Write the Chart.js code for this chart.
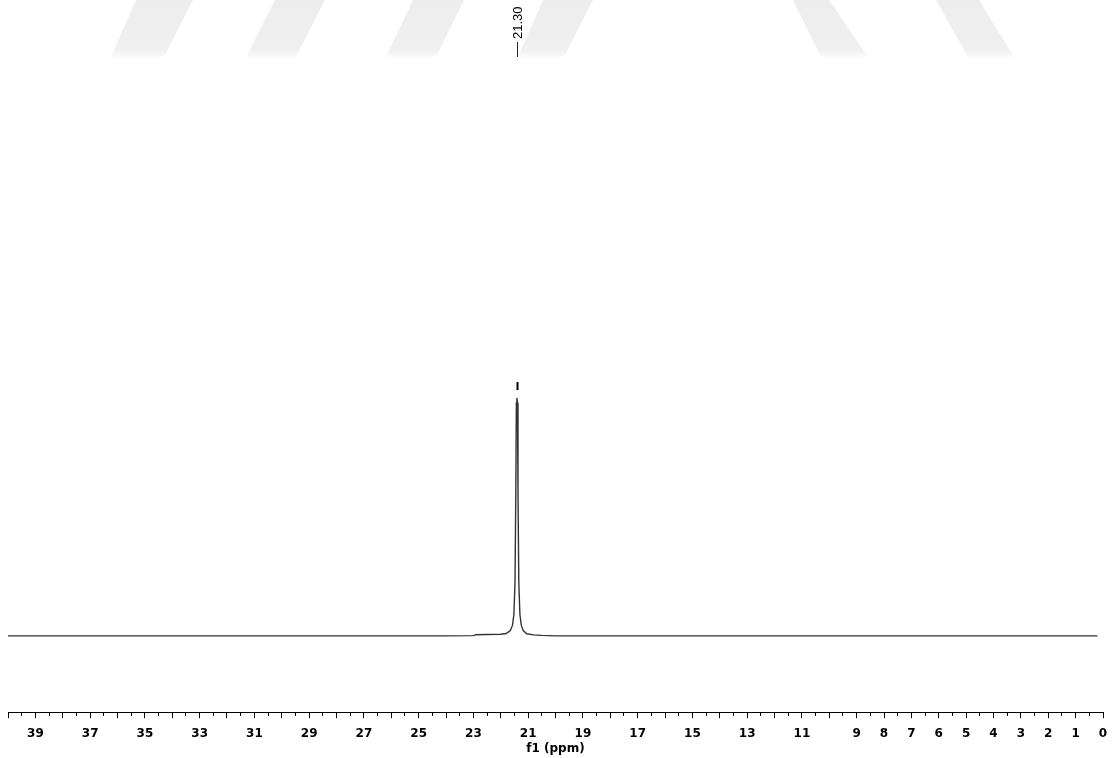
<!DOCTYPE html>
<html><head><meta charset="utf-8">
<script src="https://cdn.jsdelivr.net/npm/chart.js@4.4.1/dist/chart.umd.min.js"></script>
<style>html,body{margin:0;padding:0;background:#fff}#wrap{width:1114px;height:758px}</style>
</head><body><div id="wrap"><canvas id="c" width="1114" height="758"></canvas></div>
<script>
// Spectrum (13C NMR), chemical shift in ppm and relative intensity
const shiftPpm = [40, 30, 24, 23.0, 22.9, 22.5, 22.0, 21.8, 21.65, 21.57, 21.52, 21.48, 21.45, 21.43, 21.41, 21.39, 21.37, 21.34, 21.30, 21.25, 21.18, 21.05, 20.8, 20.5, 20.0, 10, 0.2];
const intensity = [0, 0, 0, 0.001, 0.005, 0.006, 0.007, 0.010, 0.022, 0.045, 0.09, 0.22, 0.6, 0.98, 1.0, 0.98, 0.6, 0.22, 0.09, 0.045, 0.022, 0.009, 0.004, 0.002, 0, 0, 0];
const peakLabels = ["21.30"];
const peakPositions = [21.41];
const peakHeights = [1.0];
const labelledTicks = [39, 37, 35, 33, 31, 29, 27, 25, 23, 21, 19, 17, 15, 13, 11, 9, 8, 7, 6, 5, 4, 3, 2, 1, 0];
const axisMin = 0, axisMax = 40, minorStep = 0.5;

const points = shiftPpm.map((x, i) => ({x, y: intensity[i]}));

const watermark = {
  id: 'watermark',
  beforeDraw(chart) {
    const ctx = chart.ctx;
    const shapes = [
      [[136,0],[193,0],[164,57],[111,57]],
      [[275,0],[325,0],[296,57],[246,57]],
      [[413,0],[464,0],[436,57],[386,57]],
      [[543,0],[593,0],[564,57],[518,57]],
      [[793,0],[829,0],[868,57],[821,57]],
      [[936,0],[979,0],[1014,57],[968,57]]
    ];
    ctx.save();
    const g = ctx.createLinearGradient(0, 0, 0, 58);
    g.addColorStop(0, 'rgba(0,0,0,0.07)');
    g.addColorStop(0.85, 'rgba(0,0,0,0.06)');
    g.addColorStop(1, 'rgba(0,0,0,0.01)');
    ctx.fillStyle = g;
    shapes.forEach(s => {
      ctx.beginPath();
      s.forEach((p, i) => i ? ctx.lineTo(p[0], p[1]) : ctx.moveTo(p[0], p[1]));
      ctx.closePath(); ctx.fill();
    });
    ctx.restore();
  }
};

const peakPick = {
  id: 'peakPick',
  afterDatasetsDraw(chart) {
    const ctx = chart.ctx, xs = chart.scales.x, ys = chart.scales.y;
    ctx.save();
    peakPositions.forEach((p, i) => {
      const px = Math.round(xs.getPixelForValue(p)) + 0.5;
      const top = ys.getPixelForValue(peakHeights[i]);
      ctx.strokeStyle = '#000';
      ctx.lineWidth = 2;
      ctx.beginPath(); ctx.moveTo(px, top - 16); ctx.lineTo(px, top - 8); ctx.stroke();
      ctx.lineWidth = 1;
      ctx.strokeStyle = '#222';
      ctx.beginPath(); ctx.moveTo(px, 42); ctx.lineTo(px, 57); ctx.stroke();
      ctx.translate(px + 1, 39);
      ctx.rotate(-Math.PI / 2);
      ctx.fillStyle = '#000';
      ctx.font = '13px "Liberation Sans", Arial, sans-serif';
      ctx.textAlign = 'left';
      ctx.textBaseline = 'middle';
      ctx.fillText(peakLabels[i], 0, 0);
      ctx.setTransform(1, 0, 0, 1, 0, 0);
    });
    ctx.restore();
  }
};

new Chart(document.getElementById('c'), {
  type: 'line',
  data: { datasets: [{ data: points, borderColor: '#333', borderWidth: 1.4, pointRadius: 0, tension: 0, fill: false }] },
  options: {
    responsive: false, animation: false, parsing: true,
    layout: { padding: { left: 8, right: 11, top: 0, bottom: 2 } },
    plugins: { legend: { display: false }, tooltip: { enabled: false } },
    scales: {
      y: { display: false, min: -0.321, max: 2.674 },
      x: {
        type: 'linear', reverse: true, min: axisMin, max: axisMax,
        afterBuildTicks: s => {
          const t = [];
          for (let v = axisMin; v <= axisMax + 1e-9; v += minorStep) t.push({ value: v });
          s.ticks = t;
        },
        ticks: {
          autoSkip: false, maxRotation: 0, padding: 8, color: '#000',
          font: { family: '"DejaVu Sans", Verdana, sans-serif', weight: 'bold', size: 12 },
          callback: v => labelledTicks.includes(v) ? String(v) : ''
        },
        grid: {
          drawOnChartArea: false, drawTicks: true, tickLength: 6, tickColor: '#000', tickWidth: 1,
          tickBorderDash: ctx => (ctx.tick && Number.isInteger(ctx.tick.value)) ? [] : [3, 20]
        },
        border: { display: true, color: '#000', width: 1 },
        title: {
          display: true, text: 'f1 (ppm)', color: '#000',
          font: { family: '"DejaVu Sans", Verdana, sans-serif', weight: 'bold', size: 12 },
          padding: { top: -7, bottom: 0 }
        }
      }
    }
  },
  plugins: [watermark, peakPick]
});
</script></body></html>
